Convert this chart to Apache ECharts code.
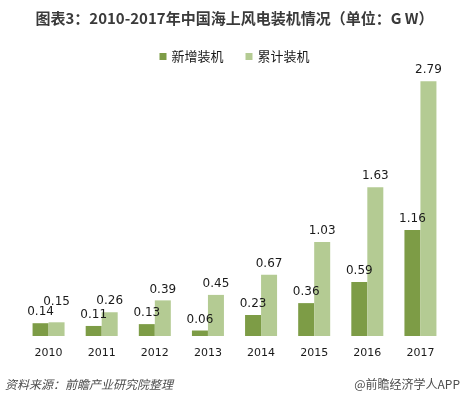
<!DOCTYPE html>
<html>
<head>
<meta charset="utf-8">
<script src="https://cdn.jsdelivr.net/npm/echarts@6/dist/echarts.min.js"></script>
<style>
  html, body { margin: 0; padding: 0; background: #fff; }
  #chart { width: 469px; height: 399px; }
</style>
</head>
<body>
<div id="chart"></div>
<script>
// 数据
const years = ['2010', '2011', '2012', '2013', '2014', '2015', '2016', '2017']
const newInstalled = [0.14, 0.11, 0.13, 0.06, 0.23, 0.36, 0.59, 1.16]
const totalInstalled = [0.15, 0.26, 0.39, 0.45, 0.67, 1.03, 1.63, 2.79]

const chart = echarts.init(document.getElementById('chart'))

const labelStyle = {
  show: true,
  position: 'top',
  distance: 5,
  color: '#1a1a1a',
  fontSize: 12,
  fontFamily: 'DejaVu Sans'
}

// 2010 年两个标签挨得太近，累计的那个往上挪一点
const totalData = totalInstalled.map((v, i) => {
  if (i === 0) {
    return { value: v, label: { distance: 14 } }
  }
  return v
})

const option = {
  backgroundColor: '#fff',
  animation: false,
  title: {
    text: '图表3：2010-2017年中国海上风电装机情况（单位：G W）',
    left: 'center',
    top: 6,
    textStyle: {
      color: '#3a3a3a',
      fontSize: 15,
      fontWeight: 'bold',
      fontFamily: 'Noto Sans CJK SC'
    }
  },
  legend: {
    top: 45,
    left: 'center',
    itemWidth: 7,
    itemHeight: 7,
    itemGap: 22,
    icon: 'rect',
    textStyle: {
      color: '#1a1a1a',
      fontSize: 13,
      fontFamily: 'Noto Sans CJK SC'
    },
    data: ['新增装机', '累计装机']
  },
  grid: {
    left: 22,
    right: 22,
    top: 62,
    bottom: 63
  },
  xAxis: {
    type: 'category',
    data: years,
    axisLine: { show: false },
    axisTick: { show: false },
    axisLabel: {
      margin: 12,
      color: '#1a1a1a',
      fontSize: 11,
      fontFamily: 'DejaVu Sans'
    }
  },
  yAxis: {
    type: 'value',
    min: 0,
    max: 3,
    show: false
  },
  series: [
    {
      name: '新增装机',
      type: 'bar',
      data: newInstalled,
      barWidth: 16,
      barGap: 0,
      itemStyle: { color: '#7d9c46' },
      label: labelStyle
    },
    {
      name: '累计装机',
      type: 'bar',
      data: totalData,
      barWidth: 16,
      barGap: 0,
      itemStyle: { color: '#b4cb93' },
      label: labelStyle
    }
  ],
  graphic: [
    {
      type: 'text',
      left: 5,
      top: 378,
      style: {
        text: '资料来源：前瞻产业研究院整理',
        fill: '#4d4d4d',
        fontSize: 12,
        fontStyle: 'italic',
        fontFamily: 'Noto Sans CJK SC'
      }
    },
    {
      type: 'text',
      right: 9,
      top: 378,
      style: {
        text: '@前瞻经济学人APP',
        fill: '#4d4d4d',
        fontSize: 12,
        fontFamily: 'Noto Sans CJK SC'
      }
    }
  ]
}

chart.setOption(option)
</script>
</body>
</html>
